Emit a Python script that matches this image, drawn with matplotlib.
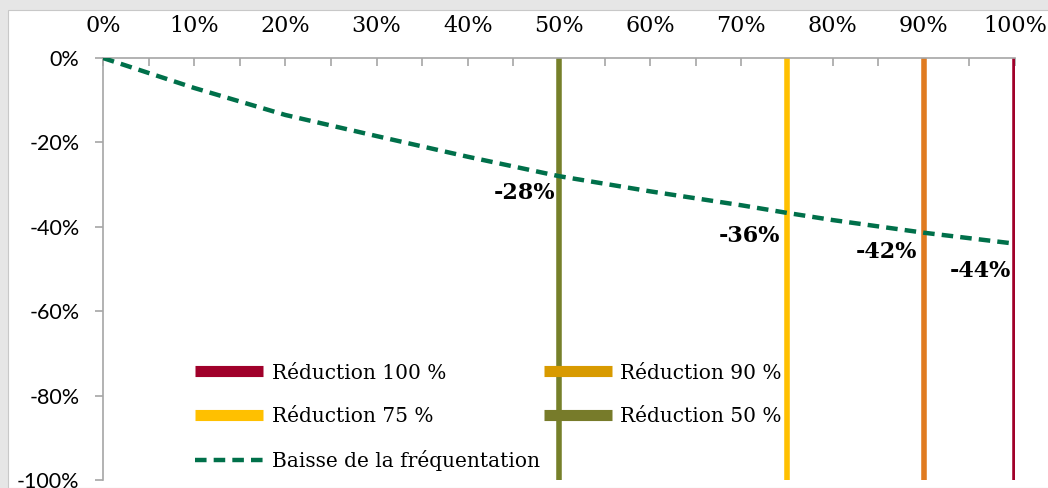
import matplotlib
matplotlib.use('Agg')
import matplotlib.pyplot as plt
from matplotlib.lines import Line2D
from matplotlib.patches import Rectangle
from matplotlib.ticker import MultipleLocator, FuncFormatter

# DATA
taux = [0, 10, 20, 30, 40, 50, 60, 70, 75, 80, 90, 100]  # reduction [%]
baisse = [0, -7.1, -13.5, -18.5, -23.4, -28, -31.6, -34.9, -36.7, -38.4, -41.4, -44]  # [%]

reductions = [100, 90, 75, 50]
red_colors = ['#a0002a', '#e07b20', '#ffc000', '#76802a']
leg_colors = ['#a0002a', '#d89a00', '#ffc000', '#777b2a']
red_labels = ['Réduction 100 %', 'Réduction 90 %', 'Réduction 75 %', 'Réduction 50 %']

points_x = [50, 75, 90, 100]
points_y = [-28, -36.7, -41.4, -44]
points_txt = ['-28%', '-36%', '-42%', '-44%']
points_off = [(-3, -12), (-5, -17), (-5, -14), (-3, -20)]  # offset in points

green = '#00704a'
serif = 'DejaVu Serif'

fig = plt.figure(figsize=(10.48, 4.88), dpi=100)
fig.patch.set_facecolor('#e6e6e6')
fig.patches.append(Rectangle((8 / 1048, 0), 1, 1 - 10 / 488, transform=fig.transFigure,
                             facecolor='white', edgecolor='#c8c8c8', lw=0.8, zorder=-10))

ax = fig.add_axes([103 / 1048, 8 / 488, 912 / 1048, 422 / 488])
ax.set_facecolor('none')

# reduction lines
for xr, c in zip(reductions, red_colors):
    ax.axvline(xr, color=c, lw=4, zorder=2)

# curve
ax.plot(taux, baisse, color=green, lw=3.2, dashes=(2.6, 1.6), zorder=3)

# labels
for x, y, t, off in zip(points_x, points_y, points_txt, points_off):
    ax.annotate(t, (x, y), xytext=off, textcoords='offset points', ha='right', va='center',
                fontsize=16, fontweight='bold', family=serif, zorder=4)

ax.set_xlim(0, 100)
ax.set_ylim(-100, 0)
ax.xaxis.tick_top()
ax.xaxis.set_major_locator(MultipleLocator(10))
ax.xaxis.set_minor_locator(MultipleLocator(5))
ax.yaxis.set_major_locator(MultipleLocator(20))
ax.xaxis.set_major_formatter(FuncFormatter(lambda v, p: f'{v:.0f}%'))
ax.yaxis.set_major_formatter(FuncFormatter(lambda v, p: f'{v:.0f}%'))

for s in ['right', 'bottom']:
    ax.spines[s].set_visible(False)
for s in ['left', 'top']:
    ax.spines[s].set_color('#a6a6a6')
    ax.spines[s].set_linewidth(1.2)

ax.tick_params(axis='x', which='both', direction='in', length=6, color='#a6a6a6', width=1.2,
               pad=15, labelsize=16)
ax.tick_params(axis='y', direction='out', length=6, color='#a6a6a6', width=1.2, pad=11, labelsize=15.5)
for lab in ax.get_xticklabels():
    lab.set_family(serif)
for lab in ax.get_yticklabels():
    lab.set_family('Lato')

# legend (filled column-wise)
h = [Line2D([], [], color=c, lw=8, solid_capstyle='butt') for c in leg_colors]
hc = Line2D([], [], color=green, lw=3.2, dashes=(2.6, 1.6))
handles = [h[0], h[2], hc, h[1], h[3]]
labels = [red_labels[0], red_labels[2], 'Baisse de la fréquentation', red_labels[1], red_labels[3]]
ax.legend(handles, labels, ncol=2, loc='upper left', bbox_to_anchor=(0.1009, 0.276),
          frameon=False, borderpad=0, borderaxespad=0, handlelength=3.4, handletextpad=0.4,
          columnspacing=0.2, labelspacing=1.2, prop={'family': serif, 'size': 14.5})

fig.savefig('out.png', dpi=100)
